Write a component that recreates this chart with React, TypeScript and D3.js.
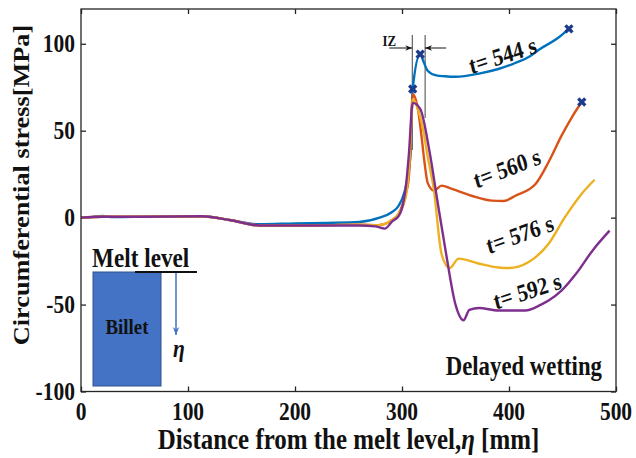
import React, { useEffect, useRef } from 'react';
import * as d3 from 'd3';

// Circumferential stress along the strand, one pair of arrays per time
const x544 = [0, 10, 20, 30, 60, 113, 140, 167, 200, 230, 260, 279, 290, 297, 304.6, 308, 310, 317, 320, 324, 332, 340, 350, 373, 390, 404, 420, 429, 445, 456];
const y544 = [0, 0.3, 1, 0.3, 0.5, 0.8, -1.5, -3.8, -3.3, -3, -2.5, 0, 3, 7, 21, 37, 74, 94, 90, 84.5, 81.8, 81.3, 81, 83, 85.5, 88.5, 93, 97, 103, 108.6];

const x560 = [0, 20, 60, 113, 140, 167, 200, 230, 260, 278, 290, 297, 303.5, 306, 308, 310, 315, 318, 321, 324, 330, 337, 346, 365, 384, 395, 406, 425, 437, 449, 459, 468];
const y560 = [0, 0.5, 0.5, 0.8, -1.5, -4.5, -4.5, -4.3, -4, -4.3, -1.7, 2.3, 13.8, 21, 40, 71, 62, 48, 32, 20, 15.5, 18.4, 16.7, 12.6, 9.8, 9.6, 12.6, 19.5, 32, 47, 58, 66.5];

const x576 = [0, 20, 60, 113, 140, 167, 200, 230, 260, 278, 290, 297, 303.5, 307, 310, 316, 320, 324, 329.6, 337, 344.5, 353, 371.5, 390, 400, 418, 437, 452, 468, 480];
const y576 = [0, 0.5, 0.5, 0.8, -1.5, -4.5, -4.5, -4.3, -4, -4.3, -1.7, 2.3, 12, 33, 68, 60, 50, 35, 17, -21, -29, -23.6, -26.4, -28.7, -29, -25.7, -15, 0, 13.8, 21.8];

const x592 = [0, 20, 60, 113, 140, 167, 200, 230, 260, 275, 284, 291, 297, 301, 304, 306.5, 310, 317, 326, 333, 341, 350, 357.5, 363, 372, 390, 415, 430, 437, 449, 463, 478, 494];
const y592 = [0, 0.5, 0.5, 0.8, -1.5, -4.5, -4.5, -4.5, -4.5, -5, -6.3, -2, 1, 8, 20, 37, 66, 62.6, 37, 10, -20, -50, -59, -53, -52, -53.4, -53.4, -50, -47.7, -42, -32, -19, -7.5];

const seriesNames = ['t= 544 s', 't= 560 s', 't= 576 s', 't= 592 s'];
const seriesColors = ['#0072BD', '#D95319', '#EDB120', '#7E2F8E'];

// label anchors (data units) and visual slope in degrees
const labelX = [394, 398, 410, 417];
const labelY = [93.5, 28.5, -9.4, -42];
const labelAngle = [-18, -21, -20, -18];

// x markers
const markX = [310, 317, 456, 468];
const markY = [74, 94, 108.6, 66.5];

// interface zone bounds [mm]
const izBounds = [309.6, 321.6];

const xTicks = [0, 100, 200, 300, 400, 500];
const yTicks = [-100, -50, 0, 50, 100];

const SX = 0.86; // the original figure is squeezed horizontally
const FONT = "'Liberation Serif', 'Times New Roman', serif";

const App = () => {
  const svgRef = useRef<SVGSVGElement>(null);

  useEffect(() => {
    const width = 636;
    const height = 458;
    const margin = { top: 9, right: 20, bottom: 66.5, left: 81 };

    const svg = d3.select(svgRef.current);
    svg.selectAll('*').remove();
    svg.attr('width', width).attr('height', height).style('background', '#fff');

    const x = d3.scaleLinear().domain([0, 500]).range([margin.left, width - margin.right]);
    const y = d3.scaleLinear().domain([-100, 120]).range([height - margin.bottom, margin.top]);

    const text = (
      str: string,
      px: number,
      py: number,
      size: number,
      anchor = 'middle',
      rot = 0
    ) =>
      svg
        .append('text')
        .attr('transform', `translate(${px},${py}) scale(${SX},1) rotate(${rot})`)
        .attr('text-anchor', anchor)
        .style('font-family', FONT)
        .style('font-weight', 'bold')
        .style('font-size', `${size}px`)
        .style('fill', '#111')
        .text(str);

    // arrowheads
    const defs = svg.append('defs');
    defs
      .append('marker')
      .attr('id', 'arrK')
      .attr('viewBox', '0 0 10 10')
      .attr('refX', 10)
      .attr('refY', 5)
      .attr('markerWidth', 7)
      .attr('markerHeight', 7)
      .attr('markerUnits', 'userSpaceOnUse')
      .attr('orient', 'auto')
      .append('path')
      .attr('d', 'M0,1 L10,5 L0,9 L3,5 Z')
      .attr('fill', '#111');
    defs
      .append('marker')
      .attr('id', 'arrB')
      .attr('viewBox', '0 0 10 10')
      .attr('refX', 10)
      .attr('refY', 5)
      .attr('markerWidth', 8)
      .attr('markerHeight', 8)
      .attr('markerUnits', 'userSpaceOnUse')
      .attr('orient', 'auto')
      .append('path')
      .attr('d', 'M0,1 L10,5 L0,9 L3,5 Z')
      .attr('fill', '#4472C4');

    // ticks pointing inward on all four sides
    const axes = [
      { ax: d3.axisBottom(x).tickValues(xTicks), t: `translate(0,${y(-100)})` },
      { ax: d3.axisTop(x).tickValues(xTicks), t: `translate(0,${y(120)})` },
      { ax: d3.axisLeft(y).tickValues(yTicks), t: `translate(${x(0)},0)` },
      { ax: d3.axisRight(y).tickValues(yTicks), t: `translate(${x(500)},0)` },
    ];
    axes.forEach(({ ax, t }) => {
      const g = svg
        .append('g')
        .attr('transform', t)
        .call(ax.tickSize(-5).tickFormat(() => ''));
      g.select('.domain').remove();
      g.selectAll('line').attr('stroke', '#262626').attr('stroke-width', 1.3);
    });

    // IZ bounds
    svg
      .append('line')
      .attr('x1', x(izBounds[0]))
      .attr('x2', x(izBounds[0]))
      .attr('y1', 35)
      .attr('y2', 150)
      .attr('stroke', '#444')
      .attr('stroke-width', 1);
    svg
      .append('line')
      .attr('x1', x(izBounds[1]))
      .attr('x2', x(izBounds[1]))
      .attr('y1', 35)
      .attr('y2', 118)
      .attr('stroke', '#444')
      .attr('stroke-width', 1);
    svg
      .append('line')
      .attr('x1', x(izBounds[0]) - 23)
      .attr('x2', x(izBounds[0]))
      .attr('y1', 48)
      .attr('y2', 48)
      .attr('stroke', '#111')
      .attr('stroke-width', 1)
      .attr('marker-end', 'url(#arrK)');
    svg
      .append('line')
      .attr('x1', x(izBounds[1]) + 21)
      .attr('x2', x(izBounds[1]))
      .attr('y1', 48)
      .attr('y2', 48)
      .attr('stroke', '#111')
      .attr('stroke-width', 1)
      .attr('marker-end', 'url(#arrK)');
    text('IZ', x(izBounds[0]) - 23, 46, 15, 'middle');

    // curves
    const xs = [x544, x560, x576, x592];
    const ys = [y544, y560, y576, y592];
    const line = d3
      .line<number[]>()
      .x((d) => x(d[0]))
      .y((d) => y(d[1]))
      .curve(d3.curveMonotoneX);
    seriesNames.forEach((name, i) => {
      const pts = xs[i].map((v, j) => [v, ys[i][j]]);
      svg
        .append('path')
        .datum(pts)
        .attr('d', line as any)
        .attr('fill', 'none')
        .attr('stroke', seriesColors[i])
        .attr('stroke-width', 2.4)
        .attr('stroke-linejoin', 'round');
    });

    // markers
    svg
      .selectAll('.mk')
      .data(markX.map((v, i) => [v, markY[i]]))
      .join('path')
      .attr('class', 'mk')
      .attr('d', d3.symbol(d3.symbolCross, 55)() as string)
      .attr('transform', (d) => `translate(${x(d[0])},${y(d[1])}) rotate(45)`)
      .attr('fill', '#1B3C8C');

    // curve labels
    seriesNames.forEach((name, i) => {
      const a = (Math.atan(SX * Math.tan((labelAngle[i] * Math.PI) / 180)) * 180) / Math.PI;
      text(name, x(labelX[i]), y(labelY[i]), 24.5, 'middle', a).attr('dy', '0.35em');
    });

    // frame
    svg
      .append('rect')
      .attr('x', x(0))
      .attr('y', y(120))
      .attr('width', x(500) - x(0))
      .attr('height', y(-100) - y(120))
      .attr('fill', 'none')
      .attr('stroke', '#262626')
      .attr('stroke-width', 1.3);

    // tick labels
    xTicks.forEach((t) => text(String(t), x(t), 420, 25));
    yTicks.forEach((t) => text(String(t), x(0) - 6, y(t) + 8, 25, 'end'));

    // axis titles
    text('Circumferential stress[MPa]', 21, 185, 26.3, 'middle', -90).attr('dy', '0.35em');
    const xl = text('', (x(0) + x(500)) / 2, 449, 29);
    xl.append('tspan').text('Distance from the melt level,');
    xl.append('tspan').style('font-style', 'italic').text('η');
    xl.append('tspan').text(' [mm]');

    text('Delayed wetting', 602, 375, 26.5, 'end');

    // billet sketch
    svg
      .append('rect')
      .attr('x', 93)
      .attr('y', 272)
      .attr('width', 68)
      .attr('height', 114)
      .attr('fill', '#4472C4')
      .attr('stroke', '#2F528F')
      .attr('stroke-width', 1);
    text('Billet', 127, 334, 22);
    text('Melt level', 92, 267, 27, 'start');
    svg
      .append('line')
      .attr('x1', 135)
      .attr('x2', 197)
      .attr('y1', 272)
      .attr('y2', 272)
      .attr('stroke', '#111')
      .attr('stroke-width', 2);
    svg
      .append('line')
      .attr('x1', 176)
      .attr('x2', 176)
      .attr('y1', 273)
      .attr('y2', 335)
      .attr('stroke', '#4472C4')
      .attr('stroke-width', 1.5)
      .attr('marker-end', 'url(#arrB)');
    text('η', 179, 357, 25).style('font-style', 'italic');
  }, []);

  return <svg ref={svgRef} style={{ position: 'absolute', left: 0, top: 0 }}></svg>;
};

export default App;
